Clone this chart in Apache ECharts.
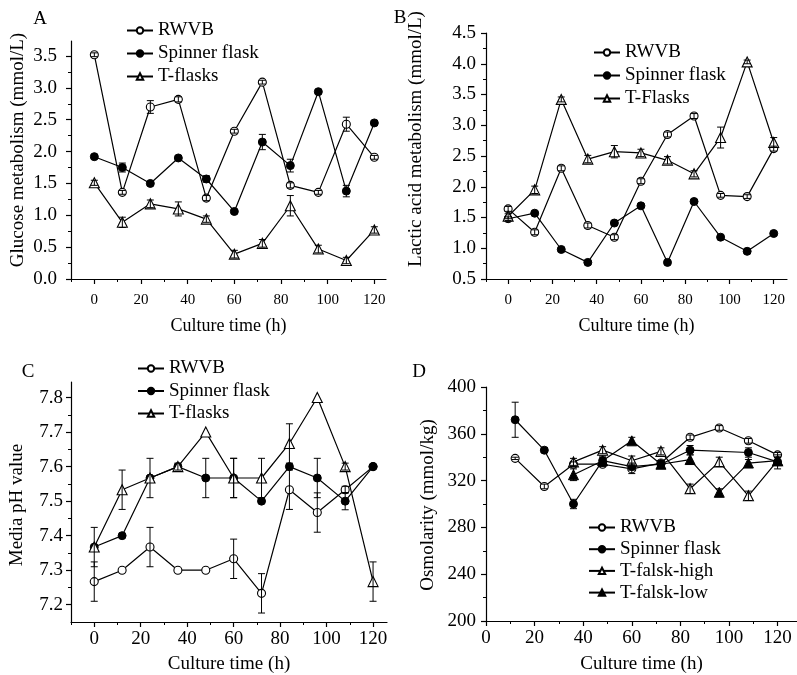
<!DOCTYPE html>
<html><head><meta charset="utf-8">
<script src="https://cdn.jsdelivr.net/npm/echarts@6/dist/echarts.min.js"></script>
<style>html,body{margin:0;padding:0;background:#fff}#c{width:797px;height:675px}</style>
</head><body><div id="c"></div>
<script>
// ---------- data ----------
const hours = [0, 12, 24, 36, 48, 60, 72, 84, 96, 108, 120];
const hoursD = [12, 24, 36, 48, 60, 72, 84, 96, 108, 120];

// A: glucose metabolism (mmol/L)
const glucoseRWVB    = [3.52, 1.36, 2.70, 2.82, 1.27, 2.32, 3.09, 1.47, 1.36, 2.43, 1.91];
const glucoseRWVBErr = [0.03, 0.03, 0.10, 0.04, 0.04, 0.03, 0.03, 0.04, 0.03, 0.11, 0.03];
const glucoseSpin    = [1.92, 1.75, 1.50, 1.90, 1.57, 1.06, 2.15, 1.78, 2.94, 1.38, 2.45];
const glucoseSpinErr = [0.03, 0.07, 0.03, 0.03, 0.05, 0.03, 0.12, 0.10, 0.03, 0.09, 0.03];
const glucoseT       = [1.51, 0.89, 1.18, 1.10, 0.94, 0.39, 0.56, 1.15, 0.47, 0.29, 0.77];
const glucoseTErr    = [0.04, 0.08, 0.06, 0.11, 0.05, 0.06, 0.06, 0.16, 0.06, 0.05, 0.05];

// B: lactic acid metabolism (mmol/L)
const lacticRWVB    = [1.64, 1.26, 2.30, 1.37, 1.18, 2.09, 2.85, 3.15, 1.86, 1.84, 2.62];
const lacticRWVBErr = [0.04, 0.04, 0.04, 0.04, 0.04, 0.04, 0.04, 0.04, 0.03, 0.03, 0.04];
const lacticSpin    = [1.48, 1.57, 0.98, 0.77, 1.41, 1.69, 0.77, 1.76, 1.18, 0.95, 1.24];
const lacticSpinErr = [0.03, 0.03, 0.03, 0.03, 0.03, 0.03, 0.03, 0.03, 0.03, 0.03, 0.03];
const lacticT       = [1.52, 1.95, 3.42, 2.45, 2.57, 2.55, 2.43, 2.21, 2.80, 4.03, 2.72];
const lacticTErr    = [0.04, 0.06, 0.04, 0.06, 0.10, 0.06, 0.06, 0.05, 0.17, 0.03, 0.08];

// C: media pH value
const phRWVB    = [7.267, 7.300, 7.367, 7.300, 7.300, 7.333, 7.233, 7.533, 7.467, 7.533, 7.600];
const phRWVBErr = [0.057, 0, 0.057, 0, 0, 0.057, 0.057, 0.057, 0.057, 0.01, 0];
const phSpin    = [7.367, 7.400, 7.567, 7.600, 7.567, 7.567, 7.500, 7.600, 7.567, 7.500, 7.600];
const phSpinErr = [0, 0, 0, 0, 0.057, 0.057, 0, 0, 0.057, 0.025, 0];
const phT       = [7.367, 7.533, 7.567, 7.600, 7.700, 7.567, 7.567, 7.667, 7.800, 7.600, 7.267];
const phTErr    = [0.057, 0.057, 0.057, 0.01, 0, 0.057, 0.057, 0.057, 0, 0.01, 0.057];

// D: osmolarity (mmol/kg)
const osmRWVB     = [339, 315, 334, 334, 330, 335, 357, 365, 354, 342];
const osmRWVBErr  = [1, 2, 2, 2, 4, 2, 2, 2, 2, 2];
const osmSpin     = [372, 346, 300, 337, 332, 334, 346, null, 344, 336];
const osmSpinErr  = [15, 2, 4, 3, 3, 3, 4, 0, 4, 6];
const osmTHigh    = [null, null, 336, 346, 337, 345, 313, 336, 307, 337];
const osmTHighErr = [0, 0, 3, 3, 4, 3, 4, 4, 4, 3];
const osmTLow     = [null, null, 325, 337, 354, 334, 338, 310, 335, 337];
const osmTLowErr  = [0, 0, 5, 4, 3, 3, 4, 3, 3, 3];

// tick values
const xTicks     = [0, 20, 40, 60, 80, 100, 120];
const xMinor     = [-10, 10, 30, 50, 70, 90, 110];
const xMinorD    = [10, 30, 50, 70, 90, 110];
const yTicksA    = [0, 0.5, 1.0, 1.5, 2.0, 2.5, 3.0, 3.5];
const yMinorA    = [0.25, 0.75, 1.25, 1.75, 2.25, 2.75, 3.25];
const yTicksB    = [0.5, 1.0, 1.5, 2.0, 2.5, 3.0, 3.5, 4.0, 4.5];
const yMinorB    = [0.75, 1.25, 1.75, 2.25, 2.75, 3.25, 3.75, 4.25];
const yTicksC    = [7.2, 7.3, 7.4, 7.5, 7.6, 7.7, 7.8];
const yMinorC    = [7.25, 7.35, 7.45, 7.55, 7.65, 7.75];
const yTicksD    = [200, 240, 280, 320, 360, 400];
const yMinorD    = [220, 260, 300, 340, 380];

// ---------- chart ----------
const FONT = "'Liberation Serif','Times New Roman',serif";
const chart = echarts.init(document.getElementById('c'), null, {renderer: 'canvas'});

const panels = [
  {grid: {left: 71, top: 41, width: 315, height: 238}, xmin: -10, xmax: 125, ymin: 0, ymax: 3.736,
   yt: yTicksA, ym: yMinorA, xm: xMinor, yfmt: v => v.toFixed(1), xfs: 15, yfs: 19, ymargin: 14, xmargin: 14, xname: 'Culture time (h)', xgap: 38, xnfs: 18},
  {grid: {left: 486, top: 33, width: 301, height: 246}, xmin: -10, xmax: 126, ymin: 0.5, ymax: 4.5,
   yt: yTicksB, ym: yMinorB, xm: xMinor, yfmt: v => v.toFixed(1), xfs: 15, yfs: 19, ymargin: 10, xmargin: 14, xname: 'Culture time (h)', xgap: 38, xnfs: 18},
  {grid: {left: 71, top: 382, width: 316, height: 243}, xmin: -10, xmax: 126, ymin: 7.15, ymax: 7.845,
   yt: yTicksC, ym: yMinorC, xm: xMinor, yfmt: v => v.toFixed(1), xfs: 19, yfs: 19, ymargin: 8, xmargin: 8, xname: 'Culture time (h)', xgap: 33, xnfs: 19},
  {grid: {left: 486, top: 387, width: 311, height: 237}, xmin: 0, xmax: 128, ymin: 200, ymax: 400,
   yt: yTicksD, ym: yMinorD, xm: xMinorD, yfmt: v => String(v), xfs: 19, yfs: 19, ymargin: 10, xmargin: 8, xname: 'Culture time (h)', xgap: 34, xnfs: 19}
];

const axisLine = {show: true, onZero: false, lineStyle: {color: '#000', width: 1.2}};
const grids = [], xAxes = [], yAxes = [];
panels.forEach((p, i) => {
  grids.push(Object.assign({containLabel: false}, p.grid));
  xAxes.push({
    type: 'value', gridIndex: i, position: 'bottom', min: p.xmin, max: p.xmax,
    axisLine: axisLine, splitLine: {show: false},
    axisTick: {show: true, length: 5, customValues: xTicks, lineStyle: {color: '#000', width: 1.2}},
    axisLabel: {show: true, customValues: xTicks, margin: p.xmargin, color: '#000', fontFamily: FONT, fontSize: p.xfs},
    name: p.xname, nameLocation: 'middle', nameGap: p.xgap,
    nameTextStyle: {color: '#000', fontFamily: FONT, fontSize: p.xnfs}
  });
  yAxes.push({
    type: 'value', gridIndex: i, position: 'left', min: p.ymin, max: p.ymax,
    axisLine: axisLine, splitLine: {show: false},
    axisTick: {show: true, length: 5, customValues: p.yt, lineStyle: {color: '#000', width: 1.2}},
    axisLabel: {show: true, customValues: p.yt, formatter: p.yfmt, margin: p.ymargin, color: '#000', fontFamily: FONT, fontSize: p.yfs}
  });
});
panels.forEach((p, i) => {
  xAxes.push({
    type: 'value', gridIndex: i, position: 'bottom', offset: 0, min: p.xmin, max: p.xmax,
    axisLine: {show: false, onZero: false}, splitLine: {show: false}, axisLabel: {show: false},
    axisTick: {show: true, length: 3, customValues: p.xm, lineStyle: {color: '#000', width: 1}}
  });
  yAxes.push({
    type: 'value', gridIndex: i, position: 'left', offset: 0, min: p.ymin, max: p.ymax,
    axisLine: {show: false, onZero: false}, splitLine: {show: false}, axisLabel: {show: false},
    axisTick: {show: true, length: 3, customValues: p.ym, lineStyle: {color: '#000', width: 1}}
  });
});

const STY = {
  openCircle:  {symbol: 'circle',   symbolSize: 8,  itemStyle: {color: '#fff', borderColor: '#000', borderWidth: 1.1}},
  fillCircle:  {symbol: 'circle',   symbolSize: 8,  itemStyle: {color: '#000', borderColor: '#000', borderWidth: 1}},
  openTri:     {symbol: 'triangle', symbolSize: 10, itemStyle: {color: '#fff', borderColor: '#000', borderWidth: 1.1}},
  fillTri:     {symbol: 'triangle', symbolSize: 10, itemStyle: {color: '#000', borderColor: '#000', borderWidth: 1}}
};

const series = [];
function addLine(name, panel, xs, ys, errs, sty) {
  const data = xs.map((h, k) => [h, ys[k]]).filter(d => d[1] !== null);
  series.push(Object.assign({
    name: name, type: 'line', xAxisIndex: panel, yAxisIndex: panel,
    data: data, connectNulls: true, z: 2,
    lineStyle: {color: '#000', width: 1.2}, emphasis: {disabled: true}, animation: false
  }, JSON.parse(JSON.stringify(sty))));
  const edata = xs.map((h, k) => [h, ys[k], errs[k]]).filter(d => d[1] !== null && d[2] > 0);
  series.push({
    type: 'custom', xAxisIndex: panel, yAxisIndex: panel, z: 5, silent: true, animation: false,
    data: edata, encode: {x: 0, y: 1},
    renderItem: function (params, api) {
      const x = api.value(0), y = api.value(1), e = api.value(2);
      const t = api.coord([x, y + e]), b = api.coord([x, y - e]);
      const c = 3.5, st = {stroke: '#000', lineWidth: 1};
      return {type: 'group', children: [
        {type: 'line', shape: {x1: t[0], y1: t[1], x2: b[0], y2: b[1]}, style: st},
        {type: 'line', shape: {x1: t[0] - c, y1: t[1], x2: t[0] + c, y2: t[1]}, style: st},
        {type: 'line', shape: {x1: b[0] - c, y1: b[1], x2: b[0] + c, y2: b[1]}, style: st}
      ]};
    }
  });
}

addLine('RWVB', 0, hours, glucoseRWVB, glucoseRWVBErr, STY.openCircle);
addLine('Spinner flask', 0, hours, glucoseSpin, glucoseSpinErr, STY.fillCircle);
addLine('T-flasks', 0, hours, glucoseT, glucoseTErr, STY.openTri);

addLine('RWVB', 1, hours, lacticRWVB, lacticRWVBErr, STY.openCircle);
addLine('Spinner flask', 1, hours, lacticSpin, lacticSpinErr, STY.fillCircle);
addLine('T-Flasks', 1, hours, lacticT, lacticTErr, STY.openTri);

addLine('RWVB', 2, hours, phRWVB, phRWVBErr, STY.openCircle);
addLine('Spinner flask', 2, hours, phSpin, phSpinErr, STY.fillCircle);
addLine('T-flasks', 2, hours, phT, phTErr, STY.openTri);

addLine('RWVB', 3, hoursD, osmRWVB, osmRWVBErr, STY.openCircle);
addLine('Spinner flask', 3, hoursD, osmSpin, osmSpinErr, STY.fillCircle);
addLine('T-falsk-high', 3, hoursD, osmTHigh, osmTHighErr, STY.openTri);
addLine('T-falsk-low', 3, hoursD, osmTLow, osmTLowErr, STY.fillTri);

function legend(names, left, top, gap) {
  return {
    data: names, left: left, top: top, orient: 'vertical', itemGap: gap,
    itemWidth: 26, itemHeight: 8, selectedMode: false, padding: 0,
    textStyle: {color: '#000', fontFamily: FONT, fontSize: 19, lineHeight: 18}
  };
}

function txt(text, x, y, size, rot) {
  return {type: 'text', x: x, y: y, rotation: rot || 0,
    style: {text: text, fill: '#000', font: size + 'px ' + FONT, textAlign: 'center', textVerticalAlign: 'middle'}};
}

chart.setOption({
  backgroundColor: '#fff',
  animation: false,
  grid: grids,
  xAxis: xAxes,
  yAxis: yAxes,
  legend: [
    legend(['RWVB', 'Spinner flask', 'T-flasks'], 126, 21, 4),
    legend(['RWVB', 'Spinner flask', 'T-Flasks'], 593, 43, 4),
    legend(['RWVB', 'Spinner flask', 'T-flasks'], 137, 359, 3.5),
    legend(['RWVB', 'Spinner flask', 'T-falsk-high', 'T-falsk-low'], 588, 518, 2.7)
  ],
  series: series,
  graphic: [
    txt('A', 40, 19, 19), txt('B', 400, 18, 19), txt('C', 28, 372, 19), txt('D', 419, 372, 19),
    txt('Glucose metabolism (mmol/L)', 18, 150, 19, Math.PI / 2),
    txt('Lactic acid metabolism (mmol/L)', 416, 139, 19, Math.PI / 2),
    txt('Media pH value', 17, 505, 19, Math.PI / 2),
    txt('Osmolarity (mmol/kg)', 428, 505, 19, Math.PI / 2)
  ]
});
</script></body></html>
